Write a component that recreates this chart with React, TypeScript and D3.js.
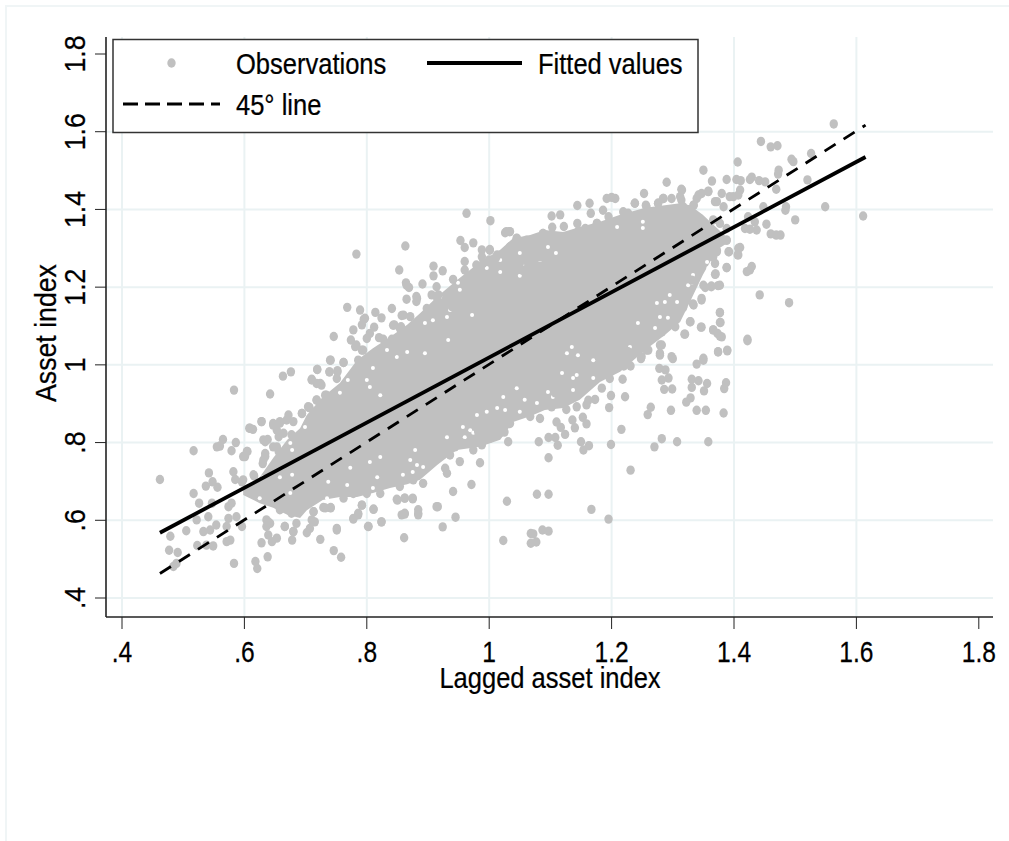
import React from "react";
import { scaleLinear, line, area } from "d3";

const tickValues = [0.4, 0.6, 0.8, 1, 1.2, 1.4, 1.6, 1.8];
const tickLabels = [".4", ".6", ".8", "1", "1.2", "1.4", "1.6", "1.8"];
const xGridValues = [0.4, 0.6, 0.8, 1, 1.2, 1.4, 1.6];
const yGridValues = [0.4, 0.6, 0.8, 1, 1.2, 1.4, 1.6];

const lineLagged = [0.462, 1.615];
const fittedAsset = [0.568, 1.535];
const diagonalAsset = [0.463, 1.617];

// the centre of the cloud is fully overplotted, so only its outline can be read
const denseLagged = [0.598, 0.625, 0.647, 0.67, 0.691, 0.702, 0.728, 0.756, 0.784, 0.81, 0.838, 0.866, 0.887, 0.915, 0.947, 0.985, 1.018, 1.039, 1.067, 1.091, 1.121, 1.148, 1.181, 1.214, 1.255, 1.287, 1.312, 1.328, 1.349, 1.372, 1.39];
const denseUpper = [0.678, 0.711, 0.76, 0.807, 0.837, 0.871, 0.917, 0.953, 1.012, 1.043, 1.072, 1.103, 1.133, 1.175, 1.218, 1.265, 1.296, 1.326, 1.334, 1.347, 1.342, 1.355, 1.368, 1.386, 1.404, 1.411, 1.416, 1.411, 1.386, 1.352, 1.326];
const denseLower = [0.665, 0.644, 0.632, 0.614, 0.606, 0.626, 0.652, 0.66, 0.66, 0.67, 0.683, 0.693, 0.704, 0.742, 0.781, 0.789, 0.807, 0.853, 0.868, 0.884, 0.889, 0.91, 0.956, 0.982, 1.038, 1.077, 1.11, 1.162, 1.231, 1.296, 1.314];

// spots inside the outline where no marker lands and the background shows
const cloudGaps = [
  [1.05, 1.288], [1.054, 1.257], [1.05, 1.229], [1.018, 1.27], [1.018, 1.239], [0.996, 1.249], [1.075, 1.29], [1.083, 1.27], [1.096, 1.303], [1.109, 1.288],
  [1.251, 1.368], [1.251, 1.352], [1.209, 1.355], [1.333, 1.231], [1.358, 1.249], [1.356, 1.265], [0.936, 1.141], [0.931, 1.123], [0.941, 1.103], [0.908, 1.115],
  [0.895, 1.108], [0.933, 1.064], [0.972, 1.128], [0.849, 1.02], [0.866, 1.033], [0.895, 1.03], [0.805, 0.943], [0.822, 0.922], [0.8, 0.961], [0.949, 1.211],
  [0.952, 1.193], [0.92, 1.175], [0.756, 0.928], [0.769, 0.961], [0.833, 1.038], [0.81, 0.992], [1.096, 0.93], [1.104, 0.917], [1.137, 0.935], [1.137, 0.966],
  [1.143, 0.974], [1.119, 0.979], [1.17, 1.012], [1.127, 1.03], [1.145, 1.025], [1.135, 1.046], [1.078, 0.902], [1.058, 0.91], [1.023, 0.917], [1.013, 0.889],
  [1.026, 0.884], [0.98, 0.871], [0.996, 0.879], [1.05, 0.879], [1.045, 0.94], [0.969, 0.832], [0.957, 0.84], [0.974, 0.825], [0.931, 0.814], [0.96, 0.814],
  [1.17, 0.966], [1.292, 1.121], [1.295, 1.18], [1.307, 1.162], [1.243, 1.108], [1.274, 1.159], [1.287, 1.162], [1.331, 1.211], [1.344, 1.187], [1.336, 1.172],
  [1.23, 1.046], [1.271, 1.095], [1.325, 1.205], [1.279, 1.123], [0.871, 0.755], [0.882, 0.742], [0.879, 0.781], [0.892, 0.737], [0.875, 0.724], [0.859, 0.717],
  [0.817, 0.711], [0.81, 0.683], [0.768, 0.691], [0.737, 0.699], [0.735, 0.657], [0.675, 0.67], [0.675, 0.799], [0.678, 0.781], [0.658, 0.711], [0.63, 0.711],
  [0.625, 0.657], [0.609, 0.639], [0.822, 0.763], [0.805, 0.75], [0.773, 0.735], [0.699, 0.84], [0.675, 0.832], [0.678, 0.717],
];

const lowerLeftObs = [
  [0.462, 0.705], [0.517, 0.779], [0.583, 0.935], [0.642, 0.925], [0.663, 0.971], [0.676, 0.982], [0.719, 0.988], [0.74, 1.012], [0.762, 1.006],
  [0.542, 0.722], [0.517, 0.669], [0.526, 0.644], [0.537, 0.688], [0.548, 0.699], [0.556, 0.685], [0.555, 0.789], [0.565, 0.808], [0.56, 0.791],
  [0.579, 0.779], [0.586, 0.8], [0.598, 0.764], [0.605, 0.777], [0.631, 0.807], [0.638, 0.808], [0.608, 0.837], [0.614, 0.834], [0.628, 0.854],
  [0.647, 0.849], [0.658, 0.854], [0.653, 0.832], [0.656, 0.815], [0.653, 0.789], [0.656, 0.777], [0.669, 0.858], [0.68, 0.854], [0.694, 0.875],
  [0.706, 0.89], [0.718, 0.909], [0.726, 0.897], [0.71, 0.961], [0.718, 0.952], [0.726, 0.948], [0.739, 0.982], [0.752, 0.982], [0.745, 0.922],
  [0.732, 0.922], [0.743, 0.897], [0.634, 0.764], [0.63, 0.746], [0.582, 0.725], [0.585, 0.705], [0.598, 0.704], [0.616, 0.714],
  [0.479, 0.559], [0.505, 0.573], [0.522, 0.601], [0.533, 0.571], [0.544, 0.575], [0.554, 0.588], [0.541, 0.609], [0.547, 0.644], [0.574, 0.605],
  [0.579, 0.644], [0.574, 0.635], [0.587, 0.609], [0.596, 0.584], [0.571, 0.584], [0.577, 0.549], [0.571, 0.545], [0.549, 0.534], [0.538, 0.536],
  [0.523, 0.535], [0.477, 0.523], [0.491, 0.517], [0.489, 0.489], [0.484, 0.481], [0.583, 0.489], [0.618, 0.494], [0.621, 0.476], [0.638, 0.506],
  [0.628, 0.542], [0.639, 0.562], [0.653, 0.554], [0.645, 0.545], [0.678, 0.549], [0.68, 0.571], [0.666, 0.584], [0.636, 0.601], [0.642, 0.592],
  [0.702, 0.568], [0.707, 0.579], [0.715, 0.596], [0.724, 0.551], [0.751, 0.575], [0.746, 0.522], [0.758, 0.505], [0.713, 0.622], [0.732, 0.632],
  [0.741, 0.632], [0.778, 0.603], [0.786, 0.618], [0.792, 0.639], [0.803, 0.584], [0.811, 0.628], [0.824, 0.596], [0.85, 0.652], [0.862, 0.657],
  [0.875, 0.655], [0.862, 0.616], [0.857, 0.614], [0.884, 0.627], [0.884, 0.614], [0.861, 0.555],
  [0.628, 0.854], [0.609, 0.837], [0.647, 0.845], [0.658, 0.85], [0.672, 0.871], [0.694, 0.875], [0.634, 0.802], [0.647, 0.789], [0.677, 0.82],
  [0.664, 0.824], [0.604, 0.777], [0.601, 0.764], [0.631, 0.755], [0.634, 0.772], [0.596, 0.699], [0.615, 0.717], [0.62, 0.674], [0.647, 0.665],
  [0.664, 0.635], [0.677, 0.618], [0.658, 0.627], [0.639, 0.596], [0.636, 0.584], [0.666, 0.584], [0.685, 0.592], [0.71, 0.601], [0.713, 0.622],
  [0.729, 0.633], [0.741, 0.633], [0.762, 0.657], [0.778, 0.669], [0.8, 0.669], [0.822, 0.669], [0.849, 0.654], [0.862, 0.657], [0.875, 0.657],
  [0.792, 0.639], [0.811, 0.629], [0.786, 0.614], [0.778, 0.605], [0.802, 0.584], [0.824, 0.596], [0.862, 0.618], [0.884, 0.618], [0.914, 0.635],
  [0.854, 0.687], [0.876, 0.704], [0.892, 0.695], [0.751, 0.579], [0.68, 0.571],
];

const lowerRightObs = [
  [1.023, 0.548], [1.068, 0.566], [1.072, 0.565], [1.068, 0.541], [1.077, 0.544], [1.087, 0.575], [1.097, 0.572], [1.029, 0.649], [1.078, 0.667],
  [1.097, 0.667], [0.916, 0.635], [0.924, 0.583], [0.945, 0.608], [0.941, 0.674], [0.971, 0.692], [1.167, 0.628], [1.195, 0.603], [1.231, 0.729],
  [1.097, 0.761], [0.985, 0.748], [1.031, 0.802], [1.017, 0.824], [1.025, 0.827], [1.001, 0.811], [1.081, 0.802], [1.097, 0.813], [1.108, 0.813],
  [1.112, 0.793], [1.124, 0.821], [1.117, 0.839], [1.11, 0.853], [1.14, 0.838], [1.136, 0.858], [1.159, 0.848], [1.153, 0.865], [1.15, 0.802],
  [1.154, 0.781], [1.163, 0.792], [1.199, 0.795], [1.216, 0.834], [1.27, 0.789], [1.282, 0.81], [1.307, 0.802], [1.358, 0.802], [1.383, 0.876],
  [1.354, 0.883], [1.339, 0.883], [1.297, 0.883], [1.259, 0.872], [1.264, 0.891], [1.322, 0.904], [1.329, 0.915], [1.351, 0.933], [1.331, 0.942],
  [1.331, 0.963], [1.342, 0.959], [1.356, 0.952], [1.384, 0.939], [1.387, 0.954], [1.299, 0.938], [1.286, 0.937], [1.282, 0.961], [1.293, 0.966],
  [1.288, 0.987], [1.278, 0.991], [1.339, 1.002], [1.35, 1.012], [1.3, 1.016], [1.374, 1.033], [1.389, 1.036], [1.422, 1.062], [1.279, 1.03],
  [1.282, 1.051], [1.222, 0.918], [1.199, 0.921], [1.196, 0.89], [1.184, 0.94], [1.218, 0.963], [1.231, 0.997], [1.22, 0.997], [1.248, 1.016],
  [1.26, 1.038], [1.159, 0.897], [1.173, 0.911], [1.162, 0.909], [1.126, 0.885], [1.143, 0.892], [0.952, 0.751], [0.931, 0.721], [0.928, 0.734],
  [1.034, 0.849], [1.012, 0.858], [0.993, 0.854], [1.083, 0.862], [1.067, 0.867], [1.102, 0.892], [1.127, 0.927], [1.108, 0.928], [1.159, 0.952],
  [1.197, 0.965], [1.197, 0.999], [1.181, 1.017], [1.225, 1.034], [0.982, 0.828], [0.974, 0.781], [0.988, 0.794], [0.958, 0.798], [0.944, 0.789],
  [0.936, 0.768], [0.914, 0.768], [1.279, 1.051], [1.279, 1.025], [1.257, 1.038], [1.249, 1.021], [1.227, 1.034], [1.298, 1.021], [1.35, 1.017],
];

const upperRightObs = [
  [1.563, 1.62], [1.444, 1.575], [1.46, 1.561], [1.471, 1.564], [1.406, 1.522], [1.526, 1.544], [1.494, 1.529], [1.497, 1.523], [1.473, 1.501],
  [1.472, 1.491], [1.52, 1.476], [1.35, 1.501], [1.364, 1.473], [1.388, 1.477], [1.404, 1.477], [1.411, 1.474], [1.426, 1.477], [1.429, 1.483],
  [1.441, 1.474], [1.451, 1.471], [1.29, 1.47], [1.314, 1.452], [1.253, 1.441], [1.192, 1.428], [1.2, 1.431], [1.206, 1.428], [1.144, 1.41],
  [1.164, 1.416], [1.166, 1.39], [1.102, 1.383], [1.116, 1.386], [1.103, 1.354], [1.122, 1.356], [1.144, 1.364], [1.146, 1.345], [1.028, 1.343],
  [1.034, 1.343], [1.549, 1.407], [1.611, 1.383], [1.5, 1.373], [1.453, 1.362], [1.469, 1.452], [1.448, 1.407], [1.485, 1.407], [1.484, 1.398],
  [1.46, 1.337], [1.469, 1.334], [1.476, 1.334], [1.437, 1.347], [1.426, 1.349], [1.418, 1.351], [1.41, 1.302], [1.406, 1.283], [1.392, 1.291],
  [1.388, 1.25], [1.429, 1.253], [1.426, 1.244], [1.421, 1.24], [1.369, 1.233], [1.442, 1.18], [1.49, 1.16], [1.377, 1.135], [1.377, 1.109],
  [1.347, 1.097], [1.366, 1.09], [1.373, 1.081], [1.38, 1.072], [1.319, 1.079], [1.422, 1.066], [1.374, 1.034], [1.389, 1.038], [1.329, 1.111],
  [1.342, 1.437], [1.334, 1.411], [1.358, 1.446], [1.38, 1.441], [1.399, 1.433], [1.41, 1.45], [1.393, 1.433], [1.407, 1.437], [1.372, 1.42],
  [1.383, 1.407], [1.314, 1.424], [1.284, 1.428], [1.298, 1.428], [1.276, 1.416], [1.238, 1.416], [1.257, 1.407], [1.227, 1.39], [1.186, 1.398],
  [1.176, 1.364], [1.088, 1.338], [1.08, 1.3], [1.034, 1.304], [1.048, 1.27], [1.053, 1.244], [1.075, 1.287], [1.366, 1.373], [1.423, 1.381],
  [1.434, 1.368], [1.388, 1.351], [1.377, 1.364], [1.372, 1.295], [1.366, 1.278], [1.388, 1.321], [1.35, 1.283], [1.344, 1.244], [1.331, 1.218],
  [1.374, 1.204], [1.363, 1.201], [1.353, 1.199], [1.347, 1.167], [1.333, 1.157], [1.314, 1.145],
  [1.388, 1.321], [1.372, 1.291], [1.391, 1.291], [1.407, 1.3], [1.407, 1.283], [1.369, 1.261], [1.388, 1.251], [1.37, 1.234], [1.377, 1.205],
  [1.363, 1.203], [1.35, 1.205], [1.347, 1.171], [1.334, 1.154], [1.317, 1.148], [1.377, 1.134], [1.378, 1.109], [1.366, 1.09], [1.377, 1.074],
  [1.346, 1.097], [1.328, 1.111], [1.32, 1.079], [1.304, 1.098], [1.282, 1.085], [1.238, 1.416], [1.256, 1.411], [1.276, 1.416], [1.285, 1.428],
  [1.315, 1.45], [1.312, 1.433], [1.339, 1.428], [1.347, 1.441], [1.358, 1.447], [1.369, 1.42], [1.317, 1.407], [1.334, 1.411], [1.219, 1.394],
  [1.195, 1.381], [1.176, 1.364], [1.157, 1.351], [1.135, 1.334], [1.118, 1.33],
];

const upperLeftObs = [
  [0.783, 1.285], [0.863, 1.306], [0.963, 1.39], [1.002, 1.371], [0.953, 1.32], [0.96, 1.302], [0.974, 1.314], [0.988, 1.296], [1.001, 1.297],
  [1.013, 1.283], [1.0, 1.27], [1.009, 1.248], [1.034, 1.3], [1.033, 1.294], [1.026, 1.34], [1.033, 1.343], [1.045, 1.326], [1.061, 1.321],
  [1.072, 1.313], [1.083, 1.3], [1.045, 1.27], [1.05, 1.261], [1.031, 1.248], [0.96, 1.266], [0.96, 1.244], [0.979, 1.257], [0.99, 1.261],
  [0.909, 1.254], [0.924, 1.242], [0.909, 1.229], [0.941, 1.22], [0.853, 1.244], [0.864, 1.211], [0.869, 1.199], [0.891, 1.208], [0.914, 1.201],
  [0.865, 1.169], [0.881, 1.176], [0.881, 1.163], [0.906, 1.18], [0.914, 1.175], [0.768, 1.148], [0.789, 1.141], [0.814, 1.135], [0.824, 1.121],
  [0.841, 1.145], [0.797, 1.12], [0.792, 1.103], [0.812, 1.097], [0.778, 1.09], [0.746, 1.073], [0.8, 1.068], [0.82, 1.07], [0.827, 1.066],
  [0.845, 1.103], [0.857, 1.127], [0.871, 1.124], [0.854, 1.094], [0.884, 1.094], [0.917, 1.103], [0.941, 1.103], [0.898, 1.145], [0.939, 1.15],
  [0.774, 1.064], [0.783, 1.051], [0.794, 1.038], [0.741, 1.012], [0.762, 1.006], [0.808, 1.025], [0.719, 0.988], [0.739, 0.982], [0.752, 0.985],
  [0.71, 0.963], [0.724, 0.952], [0.718, 0.91], [0.74, 0.918], [0.729, 0.901], [0.706, 0.891], [0.786, 1.012], [0.786, 0.97],
  [0.865, 1.205], [0.882, 1.171], [0.917, 1.18], [0.86, 1.128], [0.795, 1.117], [0.805, 1.081], [0.843, 1.102], [0.856, 1.098], [0.781, 1.047],
  [0.792, 1.038], [0.841, 1.066], [0.854, 1.066], [0.865, 1.068], [0.909, 1.145], [0.824, 1.017], [0.843, 1.034], [0.786, 0.991], [0.8, 1.0],
  [0.751, 0.965], [0.767, 0.944], [0.734, 0.922], [0.748, 0.918], [0.704, 0.892], [1.001, 1.295], [1.012, 1.278], [1.01, 1.257], [0.988, 1.278],
  [1.069, 1.295], [1.083, 1.278], [1.045, 1.325], [1.088, 1.338],
];

const observations = [...lowerLeftObs, ...lowerRightObs, ...upperRightObs, ...upperLeftObs];

const font = "'Liberation Sans', Arial, sans-serif";
const gridColor = "#eaf2f3";
const markerColor = "#c0c0c0";

const Label = ({ x, y, size = 29, squeeze = 0.88, rotate = 0, anchor = "start", children }: any) => (
  <text
    transform={`translate(${x},${y}) rotate(${rotate}) scale(${squeeze},1)`}
    fontFamily={font}
    fontSize={size}
    textAnchor={anchor}
    fill="#000"
    stroke="#000"
    strokeWidth={0.25}
  >
    {children}
  </text>
);

export default function App() {
  const left = 106;
  const right = 993;
  const top = 37;
  const bottom = 617;

  const xScale = scaleLinear().domain([0.4, 1.8]).range([122, 978.8]);
  const yScale = scaleLinear().domain([0.4, 1.8]).range([598, 54]);

  const denseArea = area<number>()
    .x((d) => xScale(d))
    .y0((_, i) => yScale(denseLower[i]))
    .y1((_, i) => yScale(denseUpper[i]));

  const fitPath = line<number>()
    .x((d) => xScale(d))
    .y((_, i) => yScale(fittedAsset[i]));

  const diagonalPath = line<number>()
    .x((d) => xScale(d))
    .y((_, i) => yScale(diagonalAsset[i]));

  return (
    <svg
      width={1009}
      height={841}
      viewBox="0 0 1009 841"
      style={{ position: "absolute", left: 0, top: 0, background: "#fff" }}
    >
      <line x1={5} x2={1009} y1={6} y2={6} stroke="#f0f5f6" strokeWidth={2} />
      <line x1={6} x2={6} y1={6} y2={841} stroke="#f0f5f6" strokeWidth={2} />

      {xGridValues.map((v) => (
        <line key={v} x1={xScale(v)} x2={xScale(v)} y1={top} y2={bottom} stroke={gridColor} strokeWidth={2} />
      ))}
      {yGridValues.map((v) => (
        <line key={v} x1={left} x2={right} y1={yScale(v)} y2={yScale(v)} stroke={gridColor} strokeWidth={2} />
      ))}

      <path d={denseArea(denseLagged) ?? ""} fill={markerColor} />
      {cloudGaps.map(([x, y], i) => (
        <circle key={i} cx={xScale(x)} cy={yScale(y)} r={2} fill="#fff" />
      ))}
      {observations.map(([x, y], i) => (
        <ellipse key={i} cx={xScale(x)} cy={yScale(y)} rx={4.2} ry={4.7} fill={markerColor} />
      ))}

      <path d={diagonalPath(lineLagged) ?? ""} fill="none" stroke="#000" strokeWidth={2.8} strokeDasharray="13 9.5" />
      <path d={fitPath(lineLagged) ?? ""} fill="none" stroke="#000" strokeWidth={3.8} />

      <line x1={left} x2={left} y1={top} y2={bottom} stroke="#222" strokeWidth={1.6} />
      <line x1={left} x2={right} y1={bottom} y2={bottom} stroke="#222" strokeWidth={1.6} />

      {tickValues.map((v, i) => (
        <g key={v}>
          <line x1={95} x2={left} y1={yScale(v)} y2={yScale(v)} stroke="#222" strokeWidth={1} />
          <line x1={xScale(v)} x2={xScale(v)} y1={bottom} y2={629} stroke="#222" strokeWidth={1} />
          <Label x={85} y={yScale(v)} size={30} squeeze={0.89} rotate={-90} anchor="middle">
            {tickLabels[i]}
          </Label>
          <Label x={xScale(v)} y={662} size={30} squeeze={0.82} anchor="middle">
            {tickLabels[i]}
          </Label>
        </g>
      ))}

      <Label x={550} y={688} anchor="middle">Lagged asset index</Label>
      <Label x={56} y={333} squeeze={0.92} rotate={-90} anchor="middle">Asset index</Label>

      <rect x={113} y={39.5} width={585} height={93} fill="#fff" stroke="#333" strokeWidth={1.5} />
      <ellipse cx={171.5} cy={63} rx={4.2} ry={4.7} fill={markerColor} />
      <Label x={236} y={74}>Observations</Label>
      <line x1={427} x2={522} y1={63} y2={63} stroke="#000" strokeWidth={3.8} />
      <Label x={538} y={74}>Fitted values</Label>
      <line x1={123} x2={220} y1={104} y2={104} stroke="#000" strokeWidth={2.8} strokeDasharray="15 7" />
      <Label x={236} y={115}>45° line</Label>
    </svg>
  );
}
